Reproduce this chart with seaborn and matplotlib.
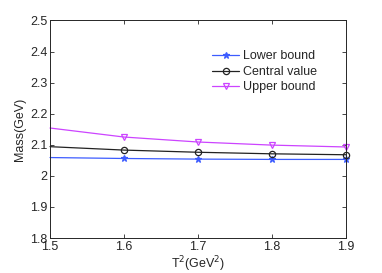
import numpy as np
import pandas as pd
import matplotlib
matplotlib.use("Agg")
import matplotlib.pyplot as plt
import seaborn as sns

# data
t2 = [1.5, 1.6, 1.7, 1.8, 1.9]
lower = [2.059, 2.056, 2.054, 2.053, 2.053]
central = [2.094, 2.083, 2.076, 2.071, 2.068]
upper = [2.154, 2.125, 2.109, 2.099, 2.093]

series = ["Lower bound", "Central value", "Upper bound"]
colors = ["#3d5cff", "#222222", "#cc44ff"]
markers = ["*", "o", "v"]

df = pd.DataFrame({"T2": t2 * 3,
                   "Mass": lower + central + upper,
                   "series": np.repeat(series, len(t2))})

sns.set_style("ticks")
plt.rcParams['font.family'] = ['Liberation Sans', 'DejaVu Sans']

fig = plt.figure(figsize=(3.82, 2.73), dpi=100)
ax = fig.add_axes([0.131, 0.128, 0.775, 0.797])

for name, col, mk in zip(series, colors, markers):
    sub = df[df.series == name]
    sns.lineplot(data=sub, x="T2", y="Mass", ax=ax, color=col, lw=0.9,
                 marker=mk, markevery=[1, 2, 3, 4], markersize=4.5,
                 markerfacecolor="none" if mk != "*" else col,
                 markeredgecolor=col, markeredgewidth=0.9, label=name,
                 clip_on=False)

ax.set_xlim(1.5, 1.9)
ax.set_ylim(1.8, 2.5)
ax.set_xticks(t2)
ax.set_xticklabels(["1.5", "1.6", "1.7", "1.8", "1.9"])
ax.set_yticks([1.8, 1.9, 2.0, 2.1, 2.2, 2.3, 2.4, 2.5])
ax.set_yticklabels(["1.8", "1.9", "2", "2.1", "2.2", "2.3", "2.4", "2.5"])
ax.tick_params(direction="in", length=3, width=0.6, labelsize=9, pad=2,
               top=True, right=True)
for s in ax.spines.values():
    s.set_linewidth(0.7)
ax.set_xlabel("T$^2$(GeV$^2$)", fontsize=9, labelpad=1)
ax.set_ylabel("Mass(GeV)", fontsize=9, labelpad=3)

ax.legend(loc="upper left", bbox_to_anchor=(0.53, 0.885), frameon=False,
          fontsize=9, handlelength=2.2, handletextpad=0.3,
          labelspacing=0.28, borderaxespad=0)

fig.savefig("out.png", dpi=100)
